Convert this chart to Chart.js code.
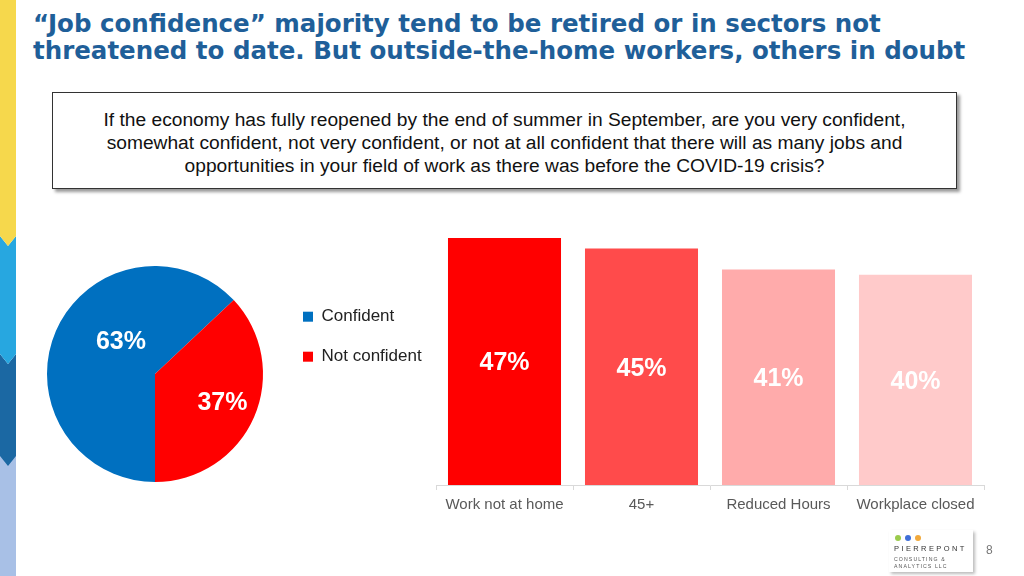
<!DOCTYPE html>
<html>
<head>
<meta charset="utf-8">
<script src="https://cdn.jsdelivr.net/npm/chart.js@4.4.1/dist/chart.umd.min.js"></script>
<style>
	body { margin: 0; width: 1024px; height: 576px; background: #fff; position: relative; overflow: hidden; font-family: "Liberation Sans", Arial, sans-serif; }
	.stripe { position: absolute; left: 0; width: 16px; }
	.title { position: absolute; left: 33px; top: 10px; font-family: "DejaVu Sans", Verdana, sans-serif; font-weight: bold; font-size: 24.5px; line-height: 27px; color: #1F5F99; white-space: nowrap; }
	.question { position: absolute; left: 52px; top: 92px; width: 905px; height: 97px; border: 1.5px solid #333; box-shadow: 3px 3px 3px #999; box-sizing: border-box; text-align: center; font-size: 19.2px; line-height: 23px; color: #111; padding-top: 15px; }
	#pie { position: absolute; left: 30px; top: 266px; }
	#bars { position: absolute; left: 426px; top: 228px; }
	.logo { position: absolute; left: 889px; top: 530px; width: 84px; height: 42px; box-shadow: 2px 2px 3px #bbb; background: #fff; }
	.page { position: absolute; left: 986px; top: 543px; font-size: 12px; color: #777; }
</style>
</head>
<body>
<div class="stripe" style="top:0;height:246px;background:#F6D84C;clip-path:polygon(0 0,100% 0,100% 236px,50% 246px,0 236px);"></div>
<div class="stripe" style="top:236px;height:128px;background:#27A7E0;clip-path:polygon(0 0,50% 10px,100% 0,100% 118px,50% 128px,0 118px);z-index:-1"></div>
<div class="stripe" style="top:354px;height:112px;background:#1B68A3;clip-path:polygon(0 0,50% 10px,100% 0,100% 102px,50% 112px,0 102px);z-index:-2"></div>
<div class="stripe" style="top:456px;height:120px;background:#A8C0E6;z-index:-3"></div>

<div class="title">“Job confidence” majority tend to be retired or in sectors not<br>threatened to date. But outside-the-home workers, others in doubt</div>

<div class="question">If the economy has fully reopened by the end of summer in September, are you very confident,<br>somewhat confident, not very confident, or not at all confident that there will as many jobs and<br>opportunities in your field of work as there was before the COVID-19 crisis?</div>

<canvas id="pie" width="416" height="216"></canvas>
<canvas id="bars" width="568" height="300"></canvas>

<div class="logo">
	<svg width="84" height="42">
		<circle cx="9" cy="8" r="3" fill="#9BCB4C"/><circle cx="19" cy="8" r="3" fill="#3F6FD8"/><circle cx="29" cy="8" r="3" fill="#F2A93B"/>
		<text x="5" y="21" font-size="7.5" letter-spacing="2.4" fill="#333" font-family="Liberation Sans">PIERREPONT</text>
		<text x="5" y="31" font-size="5.2" letter-spacing="1.1" fill="#555" font-family="Liberation Sans">CONSULTING &amp;</text>
		<text x="5" y="38" font-size="5.2" letter-spacing="1.1" fill="#555" font-family="Liberation Sans">ANALYTICS LLC</text>
	</svg>
</div>
<div class="page">8</div>

<script>
// pie data
const pieLabels = ['Confident', 'Not confident'];
const pieValues = [63, 37];
const pieColors = ['#0070C0', '#FF0000'];

// bar data
const barLabels = ['Work not at home', '45+', 'Reduced Hours', 'Workplace closed'];
const barValues = [47, 45, 41, 40];
const barColors = ['#FF0000', '#FF4B4B', '#FFABAB', '#FFCACA'];

// draw the percentage labels inside each mark
const valueLabels = {
	id: 'valueLabels',
	afterDatasetsDraw: function(chart, args, opts) {
		const ctx = chart.ctx;
		const meta = chart.getDatasetMeta(0);
		const values = chart.data.datasets[0].data;
		ctx.save();
		ctx.fillStyle = '#fff';
		ctx.font = 'bold ' + opts.size + 'px "Liberation Sans", Arial, sans-serif';
		ctx.textAlign = 'center';
		ctx.textBaseline = 'middle';
		meta.data.forEach(function(el, i) {
			let x, y;
			if (chart.config.type === 'pie') {
				const p = el.getProps(['x', 'y', 'startAngle', 'endAngle', 'outerRadius'], true);
				const mid = (p.startAngle + p.endAngle) / 2 + (opts.turn ? opts.turn[i] : 0);
				const r = p.outerRadius * opts.dist[i];
				x = p.x + Math.cos(mid) * r;
				y = p.y + Math.sin(mid) * r;
			} else {
				const p = el.getProps(['x', 'y', 'base'], true);
				x = p.x;
				y = (p.y + p.base) / 2 + 2;
			}
			ctx.fillText(values[i] + '%', x, y);
		});
		ctx.restore();
	}
};

// keep the legend a fixed width so the pie sits where it should
const legendWidth = {
	id: 'legendWidth',
	beforeInit: function(chart) {
		const fit = chart.legend.fit;
		chart.legend.fit = function() {
			fit.bind(chart.legend)();
			this.width = 166;
		};
	}
};

new Chart(document.getElementById('pie'), {
	type: 'pie',
	data: {
		labels: pieLabels,
		datasets: [{
			data: pieValues,
			backgroundColor: pieColors,
			borderWidth: 0
		}]
	},
	options: {
		responsive: false,
		animation: false,
		rotation: 180,
		layout: { padding: 0 },
		plugins: {
			legend: {
				position: 'right',
				align: 'start',
				title: { display: true, text: ' ', font: { size: 1 }, padding: { top: 0, bottom: 18 } },
				labels: {
					boxWidth: 10,
					boxHeight: 10,
					padding: 23,
					color: '#222',
					font: { size: 17, family: '"Liberation Sans", Arial, sans-serif' }
				}
			},
			tooltip: { enabled: false },
			valueLabels: { size: 25, dist: [0.435, 0.68], turn: [0.35, 0] }
		}
	},
	plugins: [legendWidth, valueLabels]
});

new Chart(document.getElementById('bars'), {
	type: 'bar',
	data: {
		labels: barLabels,
		datasets: [{
			data: barValues,
			backgroundColor: barColors,
			borderWidth: 0,
			barPercentage: 0.825,
			categoryPercentage: 1
		}]
	},
	options: {
		responsive: false,
		animation: false,
		layout: { padding: { left: 10, right: 10, top: 10, bottom: 0 } },
		scales: {
			x: {
				grid: { display: true, offset: true, drawOnChartArea: false, tickLength: 5, color: '#D9D9D9' },
				border: { color: '#D9D9D9' },
				ticks: { color: '#595959', padding: 6, font: { size: 15, family: '"Liberation Sans", Arial, sans-serif' } },
				afterFit: function(scale) { scale.height = 43; }
			},
			y: { display: false, min: 0, max: 47 }
		},
		plugins: {
			legend: { display: false },
			tooltip: { enabled: false },
			valueLabels: { size: 25 }
		}
	},
	plugins: [valueLabels]
});
</script>
</body>
</html>
